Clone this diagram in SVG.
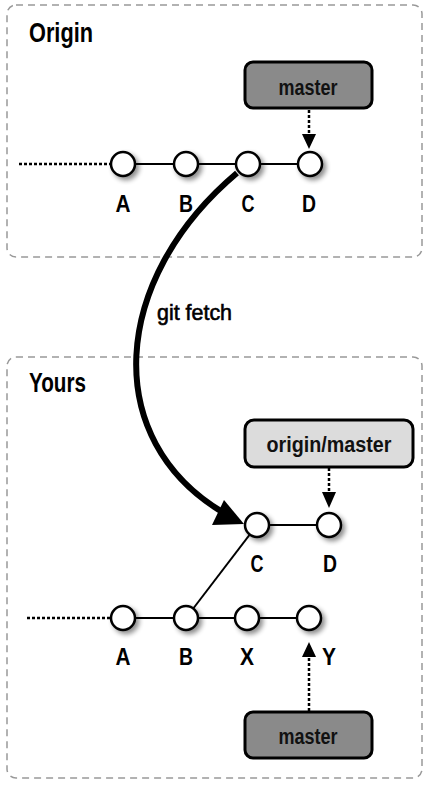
<svg xmlns="http://www.w3.org/2000/svg" width="433" height="788" viewBox="0 0 433 788">
<defs>
<style>
.frame{fill:#fff;stroke:#999;stroke-width:1.5;stroke-dasharray:7 5}
.title{font-family:"Liberation Sans",Arial,sans-serif;font-weight:bold;font-size:27px;fill:#000}
.lbl{font-family:"Liberation Sans",Arial,sans-serif;font-weight:bold;font-size:24px;fill:#000;text-anchor:middle}
.ref{font-family:"Liberation Sans",Arial,sans-serif;font-weight:bold;font-size:22px;fill:#111;text-anchor:middle}
.commit{fill:#fff;stroke:#000;stroke-width:2.5}
.edge{stroke:#000;stroke-width:2;fill:none}
.dots{stroke:#000;stroke-width:2.5;stroke-dasharray:3 2;fill:none}
.dark{fill:#8a8a8a;stroke:#000;stroke-width:3}
.light{fill:#dcdcdc;stroke:#000;stroke-width:3}
</style>
<filter id="sh" x="-50%" y="-50%" width="200%" height="200%">
<feGaussianBlur in="SourceAlpha" stdDeviation="2.5"/>
<feOffset dx="3" dy="3" result="b"/>
<feComponentTransfer><feFuncA type="linear" slope="0.45"/></feComponentTransfer>
<feMerge><feMergeNode/><feMergeNode in="SourceGraphic"/></feMerge>
</filter>
</defs>
<rect width="433" height="788" fill="#fff"/>

<g id="origin-frame">
<rect class="frame" x="7" y="5" width="415" height="252" rx="9"/>
<text class="title" x="29" y="42" textLength="64" lengthAdjust="spacingAndGlyphs">Origin</text>
</g>
<g id="yours-frame">
<rect class="frame" x="7" y="357" width="415" height="421" rx="9"/>
<text class="title" x="29" y="392" textLength="57" lengthAdjust="spacingAndGlyphs">Yours</text>
</g>

<g id="connectors">
<line class="dots" x1="19" y1="164" x2="110" y2="164"/>
<line class="edge" x1="123" y1="164" x2="310" y2="164"/>
<line class="dots" x1="309" y1="110" x2="309" y2="136"/>
<path d="M302,134 L316,134 L309,149 Z" fill="#000"/>

<path d="M237,173 C110,280 100,440 224,513" fill="none" stroke="#000" stroke-width="6"/>
<path d="M244,524 L212,525 L224,500 Z" fill="#000"/>

<line class="dots" x1="329" y1="468" x2="329" y2="494"/>
<path d="M322,492 L336,492 L329,508 Z" fill="#000"/>
<line class="edge" x1="257" y1="525" x2="329" y2="525"/>
<line class="edge" x1="186" y1="618" x2="257" y2="525"/>
<line class="dots" x1="27" y1="618" x2="110" y2="618"/>
<line class="edge" x1="123" y1="618" x2="309" y2="618"/>
<line class="dots" x1="309" y1="711" x2="309" y2="656"/>
<path d="M302,657 L316,657 L309,642 Z" fill="#000"/>
<text x="157" y="320" font-family="Liberation Sans,Arial,sans-serif" font-size="22" fill="#000" textLength="75" lengthAdjust="spacingAndGlyphs" stroke="#000" stroke-width="0.6">git fetch</text>
</g>

<g id="origin-master">
<rect class="dark" x="245" y="62" width="127" height="46" rx="8"/>
<text class="ref" x="308" y="95" textLength="59" lengthAdjust="spacingAndGlyphs">master</text>
</g>
<g id="o-A"><circle class="commit" filter="url(#sh)" cx="123" cy="164" r="12"/><text class="lbl" x="123" y="212" textLength="15" lengthAdjust="spacingAndGlyphs">A</text></g>
<g id="o-B"><circle class="commit" filter="url(#sh)" cx="186" cy="164" r="12"/><text class="lbl" x="186" y="212" textLength="14" lengthAdjust="spacingAndGlyphs">B</text></g>
<g id="o-C"><circle class="commit" filter="url(#sh)" cx="248" cy="164" r="12"/><text class="lbl" x="248" y="212" textLength="13" lengthAdjust="spacingAndGlyphs">C</text></g>
<g id="o-D"><circle class="commit" filter="url(#sh)" cx="310" cy="164" r="12"/><text class="lbl" x="309" y="212" textLength="14" lengthAdjust="spacingAndGlyphs">D</text></g>

<g id="yours-origin-master">
<rect class="light" x="245" y="420" width="168" height="47" rx="9"/>
<text class="ref" x="329" y="452" textLength="125" lengthAdjust="spacingAndGlyphs">origin/master</text>
</g>
<g id="y-C"><circle class="commit" filter="url(#sh)" cx="257" cy="525" r="12"/><text class="lbl" x="257" y="572" textLength="13" lengthAdjust="spacingAndGlyphs">C</text></g>
<g id="y-D"><circle class="commit" filter="url(#sh)" cx="329" cy="525" r="12"/><text class="lbl" x="330" y="572" textLength="14" lengthAdjust="spacingAndGlyphs">D</text></g>
<g id="y-A"><circle class="commit" filter="url(#sh)" cx="123" cy="618" r="12"/><text class="lbl" x="123" y="665" textLength="15" lengthAdjust="spacingAndGlyphs">A</text></g>
<g id="y-B"><circle class="commit" filter="url(#sh)" cx="186" cy="618" r="12"/><text class="lbl" x="186" y="665" textLength="14" lengthAdjust="spacingAndGlyphs">B</text></g>
<g id="y-X"><circle class="commit" filter="url(#sh)" cx="247" cy="618" r="12"/><text class="lbl" x="247" y="665" textLength="14" lengthAdjust="spacingAndGlyphs">X</text></g>
<g id="y-Y"><circle class="commit" filter="url(#sh)" cx="309" cy="618" r="12"/><text class="lbl" x="329" y="665" textLength="14" lengthAdjust="spacingAndGlyphs">Y</text></g>
<g id="yours-master">
<rect class="dark" x="245" y="712" width="127" height="46" rx="8"/>
<text class="ref" x="308" y="744" textLength="59" lengthAdjust="spacingAndGlyphs">master</text>
</g>
</svg>
